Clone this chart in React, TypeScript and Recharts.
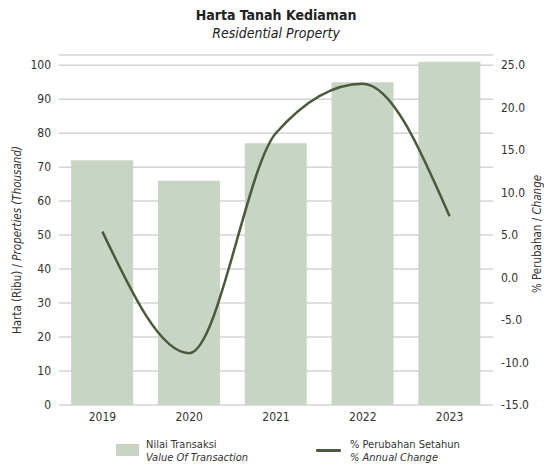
import React from 'react';
import { ComposedChart, Bar, Line, XAxis, YAxis, CartesianGrid, Legend } from 'recharts';

const years = ['2019', '2020', '2021', '2022', '2023'];
const transactionValues = [72, 66, 77, 95, 101];
const annualChange = [5.4, -8.9, 17.0, 22.8, 7.2];
const leftTicks = [0, 10, 20, 30, 40, 50, 60, 70, 80, 90, 100];
const rightTicks = [-15, -10, -5, 0, 5, 10, 15, 20, 25];

const FONT = "'Liberation Sans Narrow', 'Arial Narrow', 'DejaVu Sans Condensed', sans-serif";
const BAR_COLOR = '#c9d5c4';
const LINE_COLOR = '#4a5a3a';
const TEXT_COLOR = '#333333';

const data = years.map((year, i) => ({
  year,
  value: transactionValues[i],
  change: annualChange[i],
}));

const LegendContent = () => (
  <div style={{ position: 'relative', width: 544, height: 28, fontFamily: FONT, fontSize: 11, color: TEXT_COLOR, lineHeight: '13px' }}>
    <div style={{ position: 'absolute', left: 116, top: 9, width: 23, height: 12, background: BAR_COLOR }} />
    <div style={{ position: 'absolute', left: 146, top: 3 }}>
      <div>Nilai Transaksi</div>
      <div style={{ fontStyle: 'italic' }}>Value Of Transaction</div>
    </div>
    <div style={{ position: 'absolute', left: 316, top: 14, width: 25, height: 3, background: LINE_COLOR, borderRadius: 1 }} />
    <div style={{ position: 'absolute', left: 350, top: 3 }}>
      <div>% Perubahan Setahun</div>
      <div style={{ fontStyle: 'italic' }}>% Annual Change</div>
    </div>
  </div>
);

const App: React.FC = () => {
  const tick = { fontSize: 12, fill: TEXT_COLOR, fontFamily: FONT };
  return (
    <div style={{ position: 'relative', width: 544, height: 471, fontFamily: FONT, background: '#fff' }}>
      <style>{`body{margin:0}`}</style>
      <div style={{ position: 'absolute', top: 6, left: 0, width: 552, textAlign: 'center', color: '#222', fontSize: 14, lineHeight: '18px' }}>
        <div style={{ fontWeight: 700 }}>Harta Tanah Kediaman</div>
        <div style={{ fontStyle: 'italic' }}>Residential Property</div>
      </div>
      <ComposedChart width={544} height={471} data={data} margin={{ top: 55, right: 0, left: 0, bottom: 8 }} barCategoryGap="14%">
        <CartesianGrid yAxisId="left" vertical={false} stroke="#d4d4d4" strokeWidth={1.5} />
        <XAxis dataKey="year" axisLine={false} tickLine={false} tick={tick} tickSize={4} tickMargin={3} height={30} />
        <YAxis
          yAxisId="left"
          orientation="left"
          width={59}
          domain={[0, 103]}
          ticks={leftTicks}
          axisLine={false}
          tickLine={false}
          tick={tick}
          interval={0}
        />
        <YAxis
          yAxisId="right"
          orientation="right"
          width={51}
          domain={[-15, 26.18]}
          ticks={rightTicks}
          axisLine={false}
          tickLine={false}
          tick={tick}
          interval={0}
          tickFormatter={(v: number) => v.toFixed(1)}
        />
        <Legend verticalAlign="bottom" wrapperStyle={{ left: 0, width: 544 }} content={() => <LegendContent />} />
        <Bar yAxisId="left" dataKey="value" fill={BAR_COLOR} isAnimationActive={false} />
        <Line yAxisId="right" type="monotone" dataKey="change" stroke={LINE_COLOR} strokeWidth={2.5} dot={false} activeDot={false} isAnimationActive={false} />
      </ComposedChart>
      <svg width={544} height={471} style={{ position: 'absolute', left: 0, top: 0, pointerEvents: 'none' }}>
        <text transform="translate(21,240) rotate(-90)" textAnchor="middle" fontSize={11.5} fill={TEXT_COLOR} fontFamily={FONT}>
          Harta (Ribu) / <tspan fontStyle="italic">Properties (Thousand)</tspan>
        </text>
        <text transform="translate(541,234) rotate(-90)" textAnchor="middle" fontSize={11.5} fill={TEXT_COLOR} fontFamily={FONT}>
          % Perubahan / <tspan fontStyle="italic">Change</tspan>
        </text>
      </svg>
    </div>
  );
};

export default App;
